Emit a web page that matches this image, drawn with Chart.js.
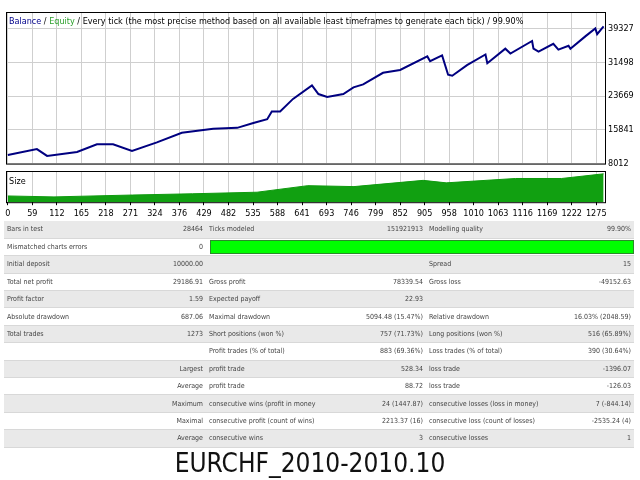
<!DOCTYPE html>
<html><head><meta charset="utf-8">
<script src="https://cdn.jsdelivr.net/npm/chart.js@4"></script>
<style>
body{margin:0;width:640px;height:480px;background:#fff;position:relative;overflow:hidden;font-family:Tahoma,"DejaVu Sans",sans-serif}
#c1{position:absolute;left:0;top:0}
#c2{position:absolute;left:0;top:170px}
.lbl{position:absolute;font-size:9px;color:#000;white-space:nowrap;font-family:"DejaVu Sans Condensed","DejaVu Sans",sans-serif}
table{position:absolute;left:4px;top:221px;width:630px;border-collapse:collapse;table-layout:fixed;font-family:"Liberation Sans Narrow","DejaVu Sans Condensed",sans-serif;font-size:7px;color:#444}
tr{height:17.4px}
td{padding:0 3px;white-space:nowrap;overflow:hidden;line-height:8px;border-bottom:1px solid #d8d8d8}
tr.g{background:#e9e9e9}
.r{text-align:right}
#title{position:absolute;left:0;width:620px;top:448px;text-align:center;font-family:"Liberation Sans Narrow","DejaVu Sans Condensed",sans-serif;font-size:26px;color:#111}
</style></head><body>
<canvas id="c1" width="640" height="172"></canvas>
<canvas id="c2" width="640" height="52"></canvas>
<div class="lbl" style="left:9px;top:16px"><span style="color:#00008b">Balance</span> / <span style="color:#2ea02e">Equity</span> / Every tick (the most precise method based on all available least timeframes to generate each tick) / 99.90%</div>
<div class="lbl" style="left:9px;top:176px">Size</div>
<table id="tbl"><colgroup><col style="width:150px"><col style="width:52px"><col style="width:110px"><col style="width:110px"><col style="width:120px"><col></colgroup></table>
<div id="title">EURCHF_2010-2010.10</div>
<script>
const balanceX=[0,63,85,150,193,228,269,323,377,445,497,532,562,572,590,618,659,673,692,727,749,770,813,850,909,915,941,954,963,995,1035,1039,1078,1089,1136,1139,1150,1182,1193,1215,1219,1252,1273,1277,1291];
const balanceY=[10000,11370,9800,10700,12480,12480,10920,12930,15170,16060,16290,17410,18300,20090,20090,23000,26130,24120,23450,24120,25680,26360,29040,29710,32840,31720,33070,28590,28370,30830,33290,31280,34630,33510,36420,34630,33960,35750,34410,35310,34630,37540,39330,38000,39780];
const sizeX=[0,100,270,400,540,650,750,900,950,1100,1200,1291];
const sizeY=[0.2,0.17,0.23,0.27,0.32,0.53,0.5,0.7,0.62,0.76,0.76,0.91];
const xTickLabels=["0","59","112","165","218","271","324","376","429","482","535","588","641","693","746","799","852","905","958","1010","1063","1116","1169","1222","1275"];
const yTicks=[8012,15841,23669,31498,39327];
const tableRows=[
["Bars in test","28464","Ticks modeled","151921913","Modelling quality","99.90%"],
["Mismatched charts errors","0","BAR","","",""],
["Initial deposit","10000.00","","","Spread","15"],
["Total net profit","29186.91","Gross profit","78339.54","Gross loss","-49152.63"],
["Profit factor","1.59","Expected payoff","22.93","",""],
["Absolute drawdown","687.06","Maximal drawdown","5094.48 (15.47%)","Relative drawdown","16.03% (2048.59)"],
["Total trades","1273","Short positions (won %)","757 (71.73%)","Long positions (won %)","516 (65.89%)"],
["","","Profit trades (% of total)","883 (69.36%)","Loss trades (% of total)","390 (30.64%)"],
["","Largest","profit trade","528.34","loss trade","-1396.07"],
["","Average","profit trade","88.72","loss trade","-126.03"],
["","Maximum","consecutive wins (profit in money)","24 (1447.87)","consecutive losses (loss in money)","7 (-844.14)"],
["","Maximal","consecutive profit (count of wins)","2213.37 (16)","consecutive loss (count of losses)","-2535.24 (4)"],
["","Average","consecutive wins","3","consecutive losses","1"]];

const tb=document.getElementById('tbl');
tableRows.forEach((r,i)=>{
  const tr=document.createElement('tr');
  if(i%2===0) tr.className='g';
  if(r[2]==="BAR"){
    tr.innerHTML=`<td>${r[0]}</td><td class="r">${r[1]}</td><td colspan="4" style="padding:1px 0 1px 4px"><div style="background:#00ff00;border:1px solid #2a8a2a;height:12px"></div></td>`;
  } else {
    tr.innerHTML=`<td>${r[0]}</td><td class="r">${r[1]}</td><td>${r[2]}</td><td class="r">${r[3]}</td><td>${r[4]}</td><td class="r">${r[5]}</td>`;
  }
  tb.appendChild(tr);
});

const XMIN=-4, XMAX=1294, STEP=(1275)/24;
const xTickVals=xTickLabels.map((_,i)=>i*STEP);
const grid={color:'#cfcfcf',borderDash:[2,2],drawTicks:false};
const frame={id:'frame',afterDraw(c){const a=c.chartArea,x=c.ctx;x.save();x.strokeStyle='#000';x.lineWidth=1;x.strokeRect(a.left+0.5,a.top+0.5,a.right-a.left,a.bottom-a.top);x.restore();}};

new Chart(document.getElementById('c1'),{
  type:'line',
  data:{datasets:[{data:balanceX.map((x,i)=>({x,y:balanceY[i]})),borderColor:'#000080',borderWidth:2,pointRadius:0,tension:0}]},
  options:{animation:false,responsive:false,plugins:{legend:{display:false},tooltip:{enabled:false}},
    layout:{padding:{top:12,left:6,bottom:0,right:0}},
    scales:{
      x:{type:'linear',min:XMIN,max:XMAX,afterBuildTicks:s=>{s.ticks=xTickVals.map(v=>({value:v}))},ticks:{display:false},grid:grid,border:{display:false}},
      y:{position:'right',min:8012,max:43130,afterBuildTicks:s=>{s.ticks=yTicks.map(v=>({value:v}))},afterFit:s=>{s.width=35},
        ticks:{color:'#000',font:{size:9,family:'DejaVu Sans Condensed'},padding:3,callback:v=>String(v)},grid:grid,border:{display:false}}
    }},
  plugins:[frame]
});
new Chart(document.getElementById('c2'),{
  type:'line',
  data:{datasets:[{data:sizeX.map((x,i)=>({x,y:sizeY[i]})),borderColor:'#0f9a0f',backgroundColor:'#11a011',fill:'origin',borderWidth:1,pointRadius:0,tension:0}]},
  options:{animation:false,responsive:false,plugins:{legend:{display:false},tooltip:{enabled:false}},
    layout:{padding:{top:1,left:6,bottom:0,right:35}},
    scales:{
      x:{type:'linear',min:XMIN,max:XMAX,afterBuildTicks:s=>{s.ticks=xTickVals.map(v=>({value:v}))},
        ticks:{color:'#000',font:{size:9,family:'DejaVu Sans Condensed'},maxRotation:0,autoSkip:false,padding:3,callback:(v,i)=>xTickLabels[i]},
        grid:{color:'#cfcfcf',borderDash:[2,2],drawTicks:true,tickLength:3,tickColor:'#000'},border:{display:false}},
      y:{display:false,min:0,max:1}
    }},
  plugins:[frame]
});
</script>
</body></html>
